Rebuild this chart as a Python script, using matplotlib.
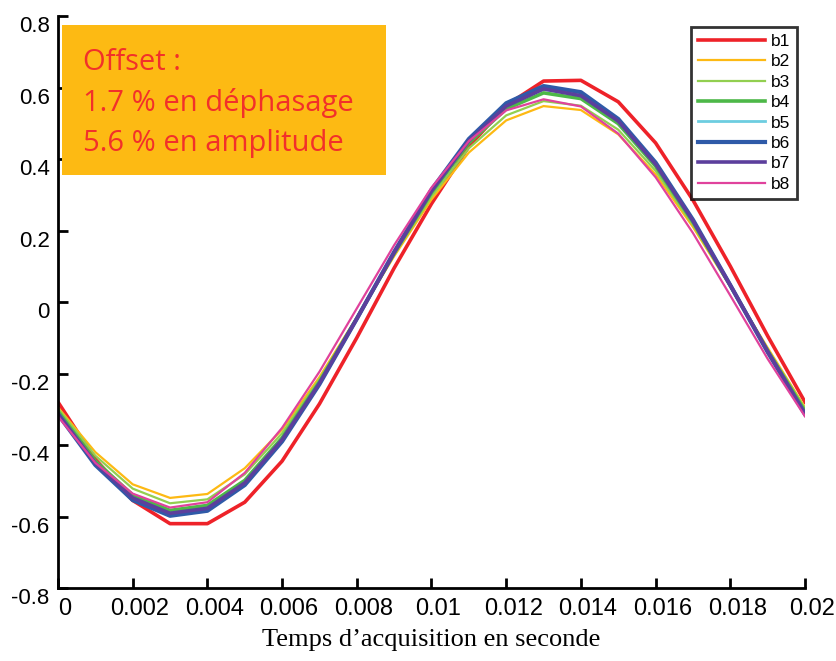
import matplotlib
matplotlib.use("Agg")
import matplotlib.pyplot as plt
import matplotlib.transforms as mtransforms

# ---- data ----
t = [0.000, 0.001, 0.002, 0.003, 0.004, 0.005, 0.006, 0.007, 0.008, 0.009, 0.010,
     0.011, 0.012, 0.013, 0.014, 0.015, 0.016, 0.017, 0.018, 0.019, 0.020]

b1 = [-0.280, -0.440, -0.555, -0.620, -0.620, -0.560, -0.445, -0.285, -0.100, 0.095, 0.275,
      0.435, 0.550, 0.618, 0.620, 0.560, 0.445, 0.285, 0.100, -0.095, -0.280]
b2 = [-0.295, -0.420, -0.510, -0.548, -0.537, -0.465, -0.357, -0.210, -0.043, 0.128, 0.287,
      0.418, 0.508, 0.548, 0.537, 0.469, 0.357, 0.210, 0.043, -0.128, -0.295]
b3 = [-0.298, -0.430, -0.522, -0.563, -0.552, -0.482, -0.367, -0.216, -0.044, 0.132, 0.295,
      0.430, 0.522, 0.562, 0.549, 0.482, 0.367, 0.216, 0.044, -0.132, -0.298]
b4 = [-0.306, -0.445, -0.540, -0.583, -0.569, -0.499, -0.380, -0.224, -0.046, 0.137, 0.306,
      0.445, 0.540, 0.585, 0.569, 0.499, 0.380, 0.224, 0.046, -0.137, -0.306]
b5 = [-0.311, -0.452, -0.550, -0.593, -0.579, -0.507, -0.386, -0.228, -0.047, 0.139, 0.311,
      0.452, 0.550, 0.595, 0.579, 0.507, 0.386, 0.228, 0.047, -0.139, -0.311]
b6 = [-0.314, -0.456, -0.554, -0.598, -0.584, -0.512, -0.390, -0.230, -0.047, 0.140, 0.314,
      0.456, 0.556, 0.604, 0.587, 0.512, 0.390, 0.230, 0.047, -0.140, -0.314]
b7 = [-0.312, -0.451, -0.548, -0.591, -0.577, -0.506, -0.385, -0.227, -0.047, 0.138, 0.310,
      0.451, 0.548, 0.596, 0.577, 0.506, 0.385, 0.227, 0.047, -0.138, -0.312]
b8 = [-0.320, -0.450, -0.536, -0.575, -0.560, -0.478, -0.352, -0.195, -0.018, 0.159, 0.320,
      0.450, 0.536, 0.567, 0.547, 0.471, 0.349, 0.193, 0.018, -0.159, -0.320]

series = [b1, b2, b3, b4, b5, b6, b7, b8]
labels = ["b1", "b2", "b3", "b4", "b5", "b6", "b7", "b8"]

xticks = [0, 0.002, 0.004, 0.006, 0.008, 0.01, 0.012, 0.014, 0.016, 0.018, 0.02]
xticklabels = ["0", "0.002", "0.004", "0.006", "0.008", "0.01", "0.012", "0.014", "0.016", "0.018", "0.02"]
yticks = [-0.8, -0.6, -0.4, -0.2, 0, 0.2, 0.4, 0.6, 0.8]
yticklabels = ["-0.8", "-0.6", "-0.4", "-0.2", "0", "0.2", "0.4", "0.6", "0.8"]

# ---- styles ----
colors = ["#EE2229", "#FDB913", "#92CF50", "#4DB848", "#6DCDE0", "#2F5AA8", "#5C3F9C", "#E0429C"]
widths = [2.6, 1.6, 1.6, 2.6, 2.0, 3.0, 2.6, 1.6]

fig = plt.figure(figsize=(8.37, 6.61), dpi=100)
ax = fig.add_axes([58 / 837, 1 - 588 / 661, (805 - 58) / 837, (588 - 16) / 661])

for y, lab, c, lw in zip(series, labels, colors, widths):
    ax.plot(t, y, color=c, lw=lw, label=lab)

ax.set_xlim(0, 0.02)
ax.set_ylim(-0.8, 0.8)
ax.set_xticks(xticks)
ax.set_xticklabels(xticklabels, fontsize=17, family="Liberation Sans")
ax.set_yticks(yticks)
ax.set_yticklabels(yticklabels, fontsize=16, family="Liberation Sans")
ax.tick_params(direction="in", length=7, width=2)
ax.tick_params(axis="x", pad=7)
ax.tick_params(axis="y", pad=6)

# shift tick labels slightly as in the reference
off = mtransforms.ScaledTranslation(0, -6 / 72, fig.dpi_scale_trans)
for lbl in ax.get_yticklabels():
    lbl.set_transform(lbl.get_transform() + off)
offx = mtransforms.ScaledTranslation(5 / 72, 0, fig.dpi_scale_trans)
for lbl in ax.get_xticklabels():
    lbl.set_transform(lbl.get_transform() + offx)

for s in ["top", "right"]:
    ax.spines[s].set_visible(False)
for s in ["left", "bottom"]:
    ax.spines[s].set_linewidth(2)

ax.set_xlabel("Temps d\u2019acquisition en seconde", fontsize=19, family="Liberation Serif", labelpad=7)

leg = ax.legend(loc="upper right",
                prop={"family": "Liberation Sans", "size": 12.5},
                frameon=True, fancybox=False, handlelength=3.9, handletextpad=0.3,
                labelspacing=0.3, borderpad=0.4, borderaxespad=0)
leg.set_bbox_to_anchor((797 / 837, 1 - 27 / 661), transform=fig.transFigure)
leg.get_frame().set_edgecolor("black")
leg.get_frame().set_linewidth(2)

# orange annotation box
box = plt.Rectangle((62 / 837, 1 - 175 / 661), (386 - 62) / 837, (175 - 25) / 661,
                    transform=fig.transFigure, facecolor="#FDBA13", edgecolor="none", zorder=5)
fig.patches.append(box)
for i, line in enumerate(["Offset :", "1.7 % en d\u00e9phasage", "5.6 % en amplitude"]):
    fig.text(83 / 837, 1 - (63 + 40 * i) / 661, line, color="#F2302A", fontsize=21,
             family="Open Sans", va="center", ha="left", zorder=6)

fig.savefig("out.png", dpi=100)
